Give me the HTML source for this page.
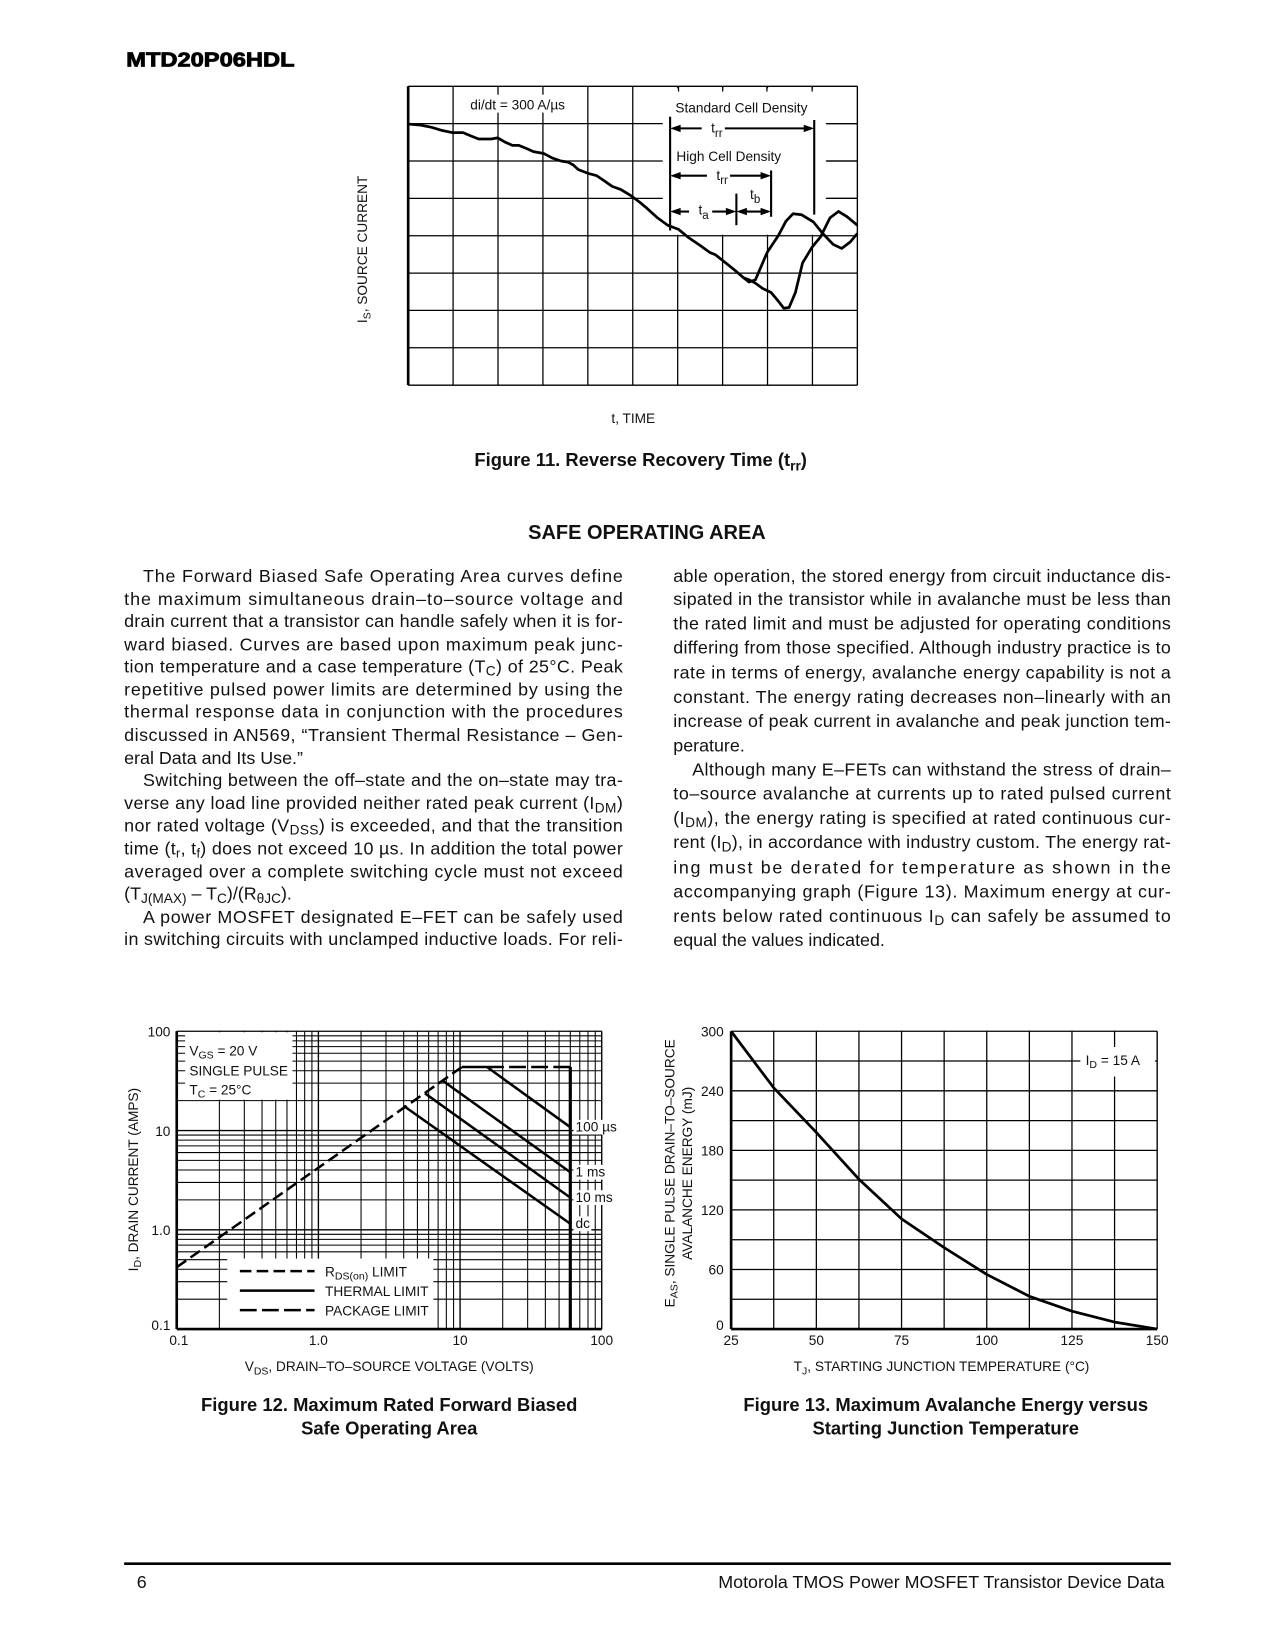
<!DOCTYPE html>
<html><head><meta charset="utf-8"><style>
html,body{margin:0;padding:0;background:#fff;}
svg{display:block;font-family:"Liberation Sans",Arial,sans-serif;}
.bt{font-size:17px;fill:#111;}
.ax{font-size:13px;fill:#111;}
.ttl{font-size:17.5px;font-weight:bold;fill:#111;}
</style></head><body>
<svg id="page" width="1275" height="1650" viewBox="0 0 1212 1568" preserveAspectRatio="none" xmlns="http://www.w3.org/2000/svg">
<text x="120" y="63" textLength="160" lengthAdjust="spacingAndGlyphs" style="font-size:19px;font-weight:900" stroke="#000" stroke-width="0.8">MTD20P06HDL</text>

<g id="fig11"></g>
<text class="ax" transform="translate(349,237) rotate(-90)" text-anchor="middle">I<tspan dy="3" font-size="10">S</tspan><tspan dy="-3">, SOURCE CURRENT</tspan></text>
<text class="ax" x="602" y="402" text-anchor="middle">t, TIME</text>
<text class="ttl" x="609" y="443" text-anchor="middle">Figure 11. Reverse Recovery Time (t<tspan dy="4" font-size="13">rr</tspan><tspan dy="-4">)</tspan></text>

<text class="ttl" x="615" y="512" text-anchor="middle" style="font-size:19px">SAFE OPERATING AREA</text>

<g class="bt">
<text x="136" y="553" textLength="456" lengthAdjust="spacing">The Forward Biased Safe Operating Area curves define</text>
<text x="118" y="575" textLength="474" lengthAdjust="spacing">the maximum simultaneous drain–to–source voltage and</text>
<text x="118" y="596" textLength="474" lengthAdjust="spacing">drain current that a transistor can handle safely when it is for-</text>
<text x="118" y="618" textLength="474" lengthAdjust="spacing">ward biased. Curves are based upon maximum peak junc-</text>
<text x="118" y="639" textLength="474" lengthAdjust="spacing">tion temperature and a case temperature (T<tspan dy="3" font-size="13">C</tspan><tspan dy="-3">) of 25°C. Peak</tspan></text>
<text x="118" y="661" textLength="474" lengthAdjust="spacing">repetitive pulsed power limits are determined by using the</text>
<text x="118" y="682" textLength="474" lengthAdjust="spacing">thermal response data in conjunction with the procedures</text>
<text x="118" y="704" textLength="474" lengthAdjust="spacing">discussed in AN569, “Transient Thermal Resistance – Gen-</text>
<text x="118" y="726">eral Data and Its Use.”</text>
<text x="136" y="747" textLength="456" lengthAdjust="spacing">Switching between the off–state and the on–state may tra-</text>
<text x="118" y="769" textLength="474" lengthAdjust="spacing">verse any load line provided neither rated peak current (I<tspan dy="3" font-size="13">DM</tspan><tspan dy="-3">)</tspan></text>
<text x="118" y="790" textLength="474" lengthAdjust="spacing">nor rated voltage (V<tspan dy="3" font-size="13">DSS</tspan><tspan dy="-3">) is exceeded, and that the transition</tspan></text>
<text x="118" y="812" textLength="474" lengthAdjust="spacing">time (t<tspan dy="3" font-size="12">r</tspan><tspan dy="-3">, t</tspan><tspan dy="3" font-size="12">f</tspan><tspan dy="-3">) does not exceed 10 µs. In addition the total power</tspan></text>
<text x="118" y="834" textLength="474" lengthAdjust="spacing">averaged over a complete switching cycle must not exceed</text>
<text x="118" y="855">(T<tspan dy="3" font-size="13">J(MAX)</tspan><tspan dy="-3"> – T</tspan><tspan dy="3" font-size="13">C</tspan><tspan dy="-3">)/(R</tspan><tspan dy="3" font-size="13">θJC</tspan><tspan dy="-3">).</tspan></text>
<text x="136" y="877" textLength="456" lengthAdjust="spacing">A power MOSFET designated E–FET can be safely used</text>
<text x="118" y="898" textLength="474" lengthAdjust="spacing">in switching circuits with unclamped inductive loads. For reli-</text>
</g>
<g class="bt">
<text x="640" y="553" textLength="473" lengthAdjust="spacing">able operation, the stored energy from circuit inductance dis-</text>
<text x="640" y="575" textLength="473" lengthAdjust="spacing">sipated in the transistor while in avalanche must be less than</text>
<text x="640" y="598" textLength="473" lengthAdjust="spacing">the rated limit and must be adjusted for operating conditions</text>
<text x="640" y="621" textLength="473" lengthAdjust="spacing">differing from those specified. Although industry practice is to</text>
<text x="640" y="645" textLength="473" lengthAdjust="spacing">rate in terms of energy, avalanche energy capability is not a</text>
<text x="640" y="668" textLength="473" lengthAdjust="spacing">constant. The energy rating decreases non–linearly with an</text>
<text x="640" y="691" textLength="473" lengthAdjust="spacing">increase of peak current in avalanche and peak junction tem-</text>
<text x="640" y="714">perature.</text>
<text x="658" y="737" textLength="455" lengthAdjust="spacing">Although many E–FETs can withstand the stress of drain–</text>
<text x="640" y="760" textLength="473" lengthAdjust="spacing">to–source avalanche at currents up to rated pulsed current</text>
<text x="640" y="783" textLength="473" lengthAdjust="spacing">(I<tspan dy="3" font-size="13">DM</tspan><tspan dy="-3">), the energy rating is specified at rated continuous cur-</tspan></text>
<text x="640" y="806" textLength="473" lengthAdjust="spacing">rent (I<tspan dy="3" font-size="13">D</tspan><tspan dy="-3">), in accordance with industry custom. The energy rat-</tspan></text>
<text x="640" y="830" textLength="473" lengthAdjust="spacing">ing must be derated for temperature as shown in the</text>
<text x="640" y="853" textLength="473" lengthAdjust="spacing">accompanying graph (Figure 13). Maximum energy at cur-</text>
<text x="640" y="876" textLength="473" lengthAdjust="spacing">rents below rated continuous I<tspan dy="3" font-size="13">D</tspan><tspan dy="-3"> can safely be assumed to</tspan></text>
<text x="640" y="899">equal the values indicated.</text>
</g>

<g id="fig12"></g>
<text class="ax" transform="translate(131,1121) rotate(-90)" text-anchor="middle">I<tspan dy="3" font-size="10">D</tspan><tspan dy="-3">, DRAIN CURRENT (AMPS)</tspan></text>
<text class="ax" x="370" y="1303" text-anchor="middle">V<tspan dy="3" font-size="10">DS</tspan><tspan dy="-3">, DRAIN–TO–SOURCE VOLTAGE (VOLTS)</tspan></text>
<text class="ttl" x="370" y="1341" text-anchor="middle">Figure 12. Maximum Rated Forward Biased</text>
<text class="ttl" x="370" y="1363" text-anchor="middle">Safe Operating Area</text>

<g id="fig13"></g>
<text class="ax" transform="translate(641,1115) rotate(-90)" text-anchor="middle">E<tspan dy="3" font-size="10">AS</tspan><tspan dy="-3">, SINGLE PULSE DRAIN–TO–SOURCE</tspan></text>
<text class="ax" transform="translate(658,1115) rotate(-90)" text-anchor="middle">AVALANCHE ENERGY (mJ)</text>
<text class="ax" x="895" y="1303" text-anchor="middle">T<tspan dy="3" font-size="10">J</tspan><tspan dy="-3">, STARTING JUNCTION TEMPERATURE (°C)</tspan></text>
<text class="ttl" x="899" y="1341" text-anchor="middle">Figure 13. Maximum Avalanche Energy versus</text>
<text class="ttl" x="899" y="1363" text-anchor="middle">Starting Junction Temperature</text>

<line x1="118" y1="1486" x2="1113" y2="1486" stroke="#000" stroke-width="2.5"/>
<text class="bt" x="130" y="1509">6</text>
<text class="bt" x="1107" y="1509" text-anchor="end">Motorola TMOS Power MOSFET Transistor Device Data</text>
</svg>
<script>
// ---------- Figure 11 data ----------
const f11CommonT = [0,0.28,0.52,0.75,0.98,1.22,1.38,1.57,1.85,1.99,2.15,2.32,2.46,2.62,2.79,3.02,3.21,3.4,3.56,3.68,3.79,4.03,4.19,4.38,4.54,4.73,4.96,5.15,5.32,5.55,5.78,6.02,6.25,6.49,6.72,6.84,7.07,7.31,7.47];
const f11CommonI = [6.99,6.96,6.9,6.82,6.76,6.76,6.68,6.59,6.59,6.62,6.51,6.42,6.42,6.34,6.25,6.2,6.08,6.0,5.97,5.89,5.77,5.66,5.61,5.46,5.32,5.24,5.07,4.9,4.73,4.48,4.28,4.17,3.94,3.75,3.55,3.49,3.27,3.04,2.87];
const f11HighT = [7.59,7.73,7.99,8.24,8.41,8.57,8.76,9.02,9.23,9.46,9.65,9.84,10];
const f11HighI = [2.76,2.82,3.55,4.0,4.39,4.59,4.56,4.37,4.06,3.77,3.66,3.83,4.06];
const f11StdT = [7.59,7.73,7.89,8.08,8.24,8.36,8.48,8.62,8.78,8.99,9.18,9.39,9.58,9.77,10];
const f11StdI = [2.82,2.73,2.59,2.48,2.25,2.06,2.08,2.48,3.27,3.69,3.97,4.48,4.65,4.51,4.28];
// ---------- Figure 12 data ----------
const f12XTicks = [0.1,1,10,100];
const f12XTickLabels = ["0.1","1.0","10","100"];
const f12YTicks = [100,10,1,0.1];
const f12YTickLabels = ["100","10","1.0","0.1"];
const f12RdsV = [0.1,10.3];
const f12RdsI = [0.42,43.6];
const f12PkgV = [10.3,15.5,60];
const f12PkgI = [43.6,43.6,43.6];
const f12Names = ["100 µs","1 ms","10 ms","dc"];
const f12StartV = [15.5,7.55,5.65,4.0];
const f12StartI = [43.6,31.7,23.7,17.7];
const f12EndV = [60,60,60,60];
const f12EndI = [10.8,3.8,2.11,1.15];
// ---------- Figure 13 data ----------
const f13Temps = [25,37.5,50,62.5,75,87.5,100,112.5,125,137.5,150];
const f13Energy = [300,243,198,151,111,82,55,33,18,7,0];
const f13XTicks = [25,50,75,100,125,150];
const f13YTicks = [0,60,120,180,240,300];

const NS="http://www.w3.org/2000/svg";
function mk(parent,tag,attrs){const e=document.createElementNS(NS,tag);for(const k in attrs)e.setAttribute(k,attrs[k]);parent.appendChild(e);return e;}
function line(p,x1,y1,x2,y2,w,dash){const l=mk(p,'line',{x1:x1,y1:y1,x2:x2,y2:y2,stroke:'#000','stroke-width':w||1});if(dash)l.setAttribute('stroke-dasharray',dash);return l;}
function txt(p,x,y,s,anchor,size){const t=mk(p,'text',{x:x,y:y,'font-size':size||13,fill:'#111'});if(anchor)t.setAttribute('text-anchor',anchor);t.textContent=s;return t;}

// ===== Figure 11 =====
(function(){
const g=document.getElementById('fig11');
const L=388,R=815,T=82,B=366;
const xs=t=>L+(R-L)*t/10, ys=i=>B-(B-T)*i/8;
for(let k=1;k<10;k++){const v=line(g,xs(k),T,xs(k),B,1.2);}
for(let k=1;k<8;k++){const h=line(g,L,ys(k),R,ys(k),1.2);}
line(g,L,T,R,T,1.3);line(g,R,T,R,B,1.3);line(g,L,B,R,B,1.3);line(g,L,T,L,B,2.5);
const wb=mk(g,'rect',{x:630,y:84,width:155,height:139,fill:'#fff'});


mk(g,'rect',{x:443,y:90,width:100,height:17,fill:'#fff'});
[645,687,729,772].forEach(x=>line(g,x,T,x,T+5,1.2));
[ys(7),ys(6),ys(5)].forEach(y=>line(g,786,y,R,y,1.2));
function curve(ts,is,name){let d='';ts.forEach((t,k)=>{d+=(k?'L':'M')+xs(t).toFixed(1)+' '+ys(is[k]).toFixed(1);});const p=mk(g,'path',{d:d,fill:'none',stroke:'#000','stroke-width':2.6,'stroke-linejoin':'round'});}
curve(f11CommonT,f11CommonI,'fig11-common-curve');
curve([f11CommonT[f11CommonT.length-1]].concat(f11HighT),[f11CommonI[f11CommonI.length-1]].concat(f11HighI),'fig11-high-cell-curve');
curve([f11CommonT[f11CommonT.length-1]].concat(f11StdT),[f11CommonI[f11CommonI.length-1]].concat(f11StdI),'fig11-standard-cell-curve');
const lab=txt(g,447,104,'di/dt = 300 A/µs');
const s1=txt(g,642,107,'Standard Cell Density');
const s2=txt(g,643,153,'High Cell Density');
line(g,637,111,637,219,2);line(g,774,114,774,204,2);line(g,733,162,733,206,2);line(g,700,184,700,214,2);
function arrow(x1,x2,y){line(g,x1+8,y,x2-8,y,2);mk(g,'path',{d:`M${x1} ${y}l10 -3.5v7z`,fill:'#000'});mk(g,'path',{d:`M${x2} ${y}l-10 -3.5v7z`,fill:'#000'});}
arrow(637,774,122);arrow(637,733,167);arrow(637,700,201);arrow(700,733,201);
function trr(x,y,s){mk(g,'rect',{x:x-9,y:y-12,width:22,height:18,fill:'#fff'});const t=txt(g,x,y,'t');const sp=mk(t,'tspan',{dy:4,'font-size':11});sp.textContent=s;}
trr(676,126,'rr');trr(681,171,'rr');trr(664,204,'a');
const tb=txt(g,713,189,'t');const sp=mk(tb,'tspan',{dy:4,'font-size':11});sp.textContent='b';
})();

// ===== Figure 12 =====
(function(){
const g=document.getElementById('fig12');
const L=168,R=572,T=980,B=1263;
const xs=v=>L+(R-L)*(Math.log10(v)+1)/3, ys=v=>B-(B-T)*(Math.log10(v)+1)/3;
for(let d=-1;d<2;d++)for(let m=1;m<10;m++){const v=m*Math.pow(10,d);
 const gv=line(g,xs(v),T,xs(v),B,m===1?1.3:1);
 const gh=line(g,L,ys(v),R,ys(v),m===1?1.3:1);}
line(g,L,T,R,T,1.3);line(g,R,T,R,B,1.3);
const cb=mk(g,'rect',{x:L+8,y:T+1,width:102,height:64,fill:'#fff'});


const lb=mk(g,'rect',{x:216,y:1196,width:196,height:66,fill:'#fff'});


line(g,L,B,R,B,2.5);line(g,L,T,L,B,2.5);
const c1=txt(g,180,1003,'V');const a=mk(c1,'tspan',{dy:3,'font-size':10});a.textContent='GS';const b=mk(c1,'tspan',{dy:-3});b.textContent=' = 20 V';
txt(g,180,1022,'SINGLE PULSE');
const c3=txt(g,180,1040,'T');const a3=mk(c3,'tspan',{dy:3,'font-size':10});a3.textContent='C';const b3=mk(c3,'tspan',{dy:-3});b3.textContent=' = 25°C';
const rd=line(g,xs(f12RdsV[0]),ys(f12RdsI[0]),xs(f12RdsV[1]),ys(f12RdsI[1]),2.4,'11 5');

const p1=line(g,xs(f12PkgV[0]),ys(f12PkgI[0]),xs(f12PkgV[1]),ys(f12PkgI[1]),2.4);

const p2=line(g,xs(f12PkgV[1]),ys(f12PkgI[1]),xs(f12PkgV[2]),ys(f12PkgI[2]),2.4,'16 5');

const vl=line(g,xs(f12PkgV[2]),ys(f12PkgI[2]),xs(f12PkgV[2]),B,3);

f12Names.forEach((n,k)=>{
 const th=line(g,xs(f12StartV[k]),ys(f12StartI[k]),xs(f12EndV[k]),ys(f12EndI[k]),2.4);
 
 const yy=ys(f12EndI[k])+4;
 mk(g,'rect',{x:xs(f12EndV[k])+3,y:yy-11,width:n==='dc'?17:(n.length*7),height:14,fill:'#fff'});
 const t=txt(g,xs(f12EndV[k])+5,yy,n);
});
const lg=[['RDS(on) LIMIT','11 5'],['THERMAL LIMIT',null],['PACKAGE LIMIT','16 5']];
lg.forEach((e,k)=>{const y=1208+k*18.5;line(g,228,y,299,y,2.4,e[1]);
 const t=txt(g,309,y+5,'');
 if(k===0){t.textContent='R';const s=mk(t,'tspan',{dy:3,'font-size':10});s.textContent='DS(on)';const r=mk(t,'tspan',{dy:-3});r.textContent=' LIMIT';}
 else t.textContent=e[0];
 });
f12XTicks.forEach((v,k)=>{const t=txt(g,xs(v)+(k===0?2:0),1278,f12XTickLabels[k],'middle');});
f12YTicks.forEach((v,k)=>{const t=txt(g,162,ys(v)+(k===3?1:5),f12YTickLabels[k],'end');});
})();

// ===== Figure 13 =====
(function(){
const g=document.getElementById('fig13');
const L=695,R=1100,T=980,B=1263;
const xs=v=>L+(R-L)*(v-25)/125, ys=v=>B-(B-T)*v/300;
for(let k=1;k<10;k++){const gv=line(g,L+(R-L)*k/10,T,L+(R-L)*k/10,B,1.2);
 const gh=line(g,L,T+(B-T)*k/10,R,T+(B-T)*k/10,1.2);}
line(g,L,T,R,T,1.3);line(g,R,T,R,B,1.3);
mk(g,'rect',{x:1027,y:995,width:71,height:28,fill:'#fff'});
line(g,L,B,R,B,2.5);line(g,L,T,L,B,2.5);
const lt=txt(g,1032,1012,'I');const s=mk(lt,'tspan',{dy:3,'font-size':10});s.textContent='D';const r=mk(lt,'tspan',{dy:-3});r.textContent=' = 15 A';

let d='';f13Temps.forEach((t,k)=>{d+=(k?'L':'M')+xs(t).toFixed(1)+' '+ys(f13Energy[k]).toFixed(1);});
const p=mk(g,'path',{d:d,fill:'none',stroke:'#000','stroke-width':2.6,'stroke-linejoin':'round'});

f13XTicks.forEach(v=>{const t=txt(g,xs(v),1278,String(v),'middle');});
f13YTicks.forEach(v=>{const t=txt(g,688,ys(v)+(v===0?1:5),String(v),'end');});
})();
</script>
</body></html>
